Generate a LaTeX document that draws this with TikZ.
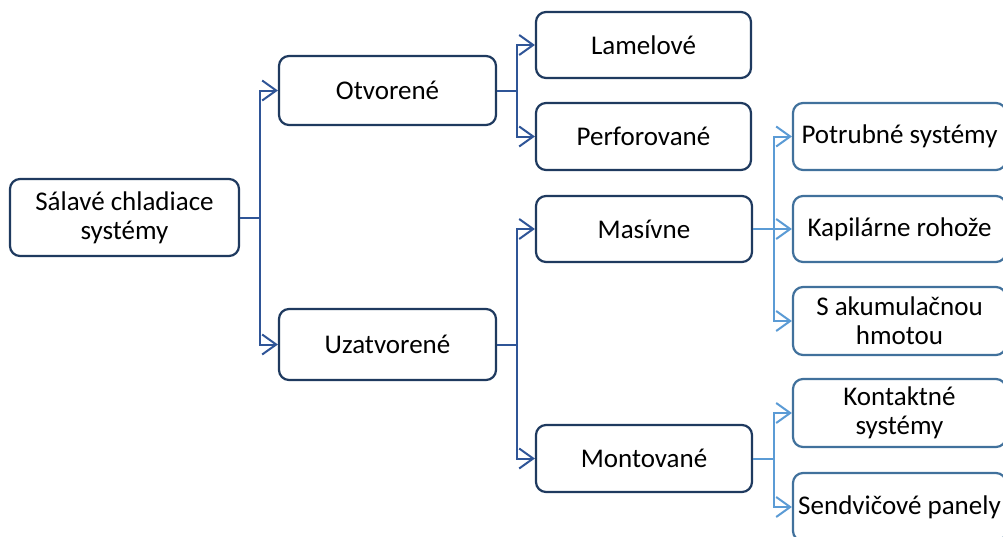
\documentclass[tikz,border=0pt]{standalone}
\usepackage{fontspec}
\setmainfont{Carlito}
\usetikzlibrary{arrows.meta}
\definecolor{boxdark}{HTML}{1F3A5F}
\definecolor{boxlight}{HTML}{41719C}
\definecolor{condark}{HTML}{2F5597}
\definecolor{conlight}{HTML}{5B9BD5}
\tikzset{
  basebox/.style={rectangle, rounded corners=10pt, line width=2.2pt, fill=white,
    align=center, inner sep=2pt, font=\fontsize{27}{29}\selectfont, text=black},
  lbox/.style={basebox, draw=boxdark},
  rbox/.style={basebox, draw=boxlight},
  conn/.style={line width=2pt, -{Straight Barb[length=14pt,width=20pt,line width=2pt]}},
  dconn/.style={conn, draw=condark},
  lconn/.style={conn, draw=conlight},
}
\begin{document}
\begin{tikzpicture}[x=1pt,y=-1pt]
\useasboundingbox (0,0) rectangle (1003,536);
\begin{scope}
\clip (0,0) rectangle (1003,536);
\node[lbox, minimum width=229pt, minimum height=77pt] (root) at (124.5,217.5) {Sálavé chladiace\\systémy};
\node[lbox, minimum width=217pt, minimum height=69pt] (otv) at (387.5,90.5) {Otvorené};
\node[lbox, minimum width=217pt, minimum height=71pt] (uza) at (387.5,344.5) {Uzatvorené};
\node[lbox, minimum width=215pt, minimum height=66pt] (lam) at (643.5,45) {Lamelové};
\node[lbox, minimum width=215pt, minimum height=67pt] (per) at (643.5,136.5) {Perforované};
\node[lbox, minimum width=216pt, minimum height=66pt] (mas) at (644,229) {Masívne};
\node[lbox, minimum width=216pt, minimum height=67pt] (mon) at (644,458.5) {Montované};
\node[rbox, minimum width=213pt, minimum height=67pt] (pot) at (899.5,136.5) {Potrubné systémy};
\node[rbox, minimum width=213pt, minimum height=66pt] (kap) at (899.5,229) {Kapilárne rohože};
\node[rbox, minimum width=213pt, minimum height=68pt] (aku) at (899.5,321) {S akumulačnou\\hmotou};
\node[rbox, minimum width=213pt, minimum height=68pt] (kon) at (899.5,413) {Kontaktné\\systémy};
\node[rbox, minimum width=213pt, minimum height=68pt] (sen) at (899.5,507) {Sendvičové panely};
\end{scope}
\draw[dconn] (root.east) -- ++(20,0) |- (otv.west);
\draw[dconn] (root.east) -- ++(20,0) |- (uza.west);
\draw[dconn] (otv.east) -- ++(20,0) |- (lam.west);
\draw[dconn] (otv.east) -- ++(20,0) |- (per.west);
\draw[dconn] (uza.east) -- ++(20,0) |- (mas.west);
\draw[dconn] (uza.east) -- ++(20,0) |- (mon.west);
\draw[lconn] (mas.east) -- ++(21,0) |- (pot.west);
\draw[lconn] (mas.east) -- ++(21,0) |- (kap.west);
\draw[lconn] (mas.east) -- ++(21,0) |- (aku.west);
\draw[lconn] (mon.east) -- ++(21,0) |- (kon.west);
\draw[lconn] (mon.east) -- ++(21,0) |- (sen.west);
\end{tikzpicture}
\end{document}
